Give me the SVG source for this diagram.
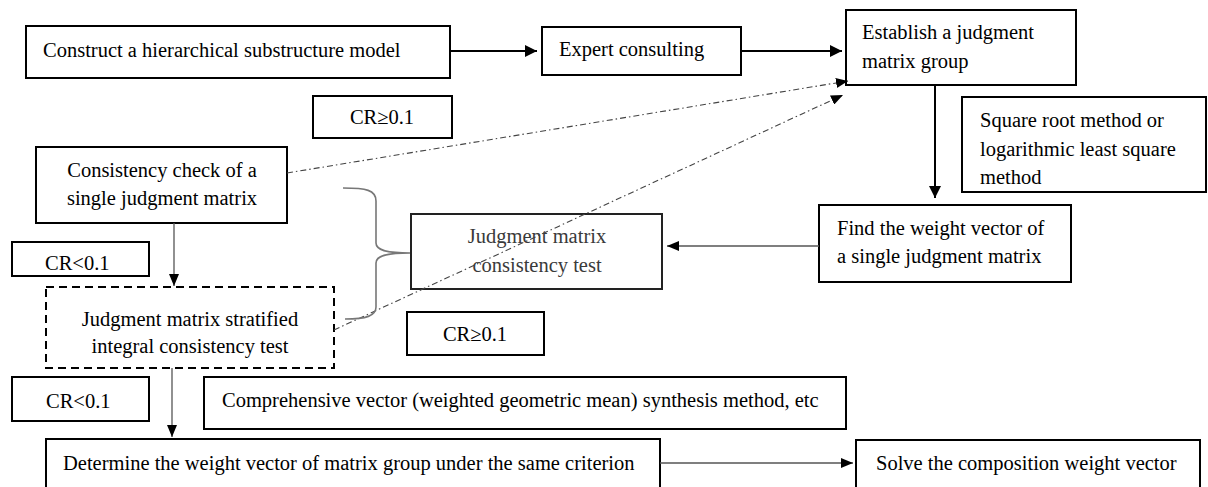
<svg xmlns="http://www.w3.org/2000/svg" width="1208" height="487" viewBox="0 0 1208 487">
  <style>
    .box { fill: #fff; stroke: #000; stroke-width: 2; }
    .dash { fill: #fff; stroke: #000; stroke-width: 2; stroke-dasharray: 8 5; }
    .soft { fill: none; stroke: #222; stroke-width: 2; }
    .t { font-family: "Liberation Serif", "Times New Roman", serif; font-size: 20.5px; fill: #000; }
    .tg { fill: #3a3a3a; }
    .mid { text-anchor: middle; }
    .bold { stroke: #000; stroke-width: 2; fill: none; }
    .thin { stroke: #555; stroke-width: 1.3; fill: none; }
    .dd { stroke: #444; stroke-width: 1.1; fill: none; stroke-dasharray: 6 3 1.5 3; }
    .brace { stroke: #777; stroke-width: 1.6; fill: none; }
  </style>
  <defs>
    <marker id="ahBig" markerUnits="userSpaceOnUse" viewBox="0 0 12 12" refX="12" refY="6" markerWidth="12" markerHeight="12" orient="auto">
      <path d="M0,0 L12,6 L0,12 Z" fill="#000"/>
    </marker>
    <marker id="ahSmall" markerUnits="userSpaceOnUse" viewBox="0 0 12 10" refX="12" refY="5" markerWidth="12" markerHeight="10" orient="auto">
      <path d="M0,0 L12,5 L0,10 Z" fill="#000"/>
    </marker>
  </defs>

  <g id="construct-model">
    <rect class="box" x="26" y="26" width="424" height="52"/>
    <text class="t" x="43" y="57">Construct a hierarchical substructure model</text>
  </g>

  <g id="expert-consulting">
    <rect class="box" x="542" y="27" width="199" height="48"/>
    <text class="t" x="559" y="56">Expert consulting</text>
  </g>

  <g id="establish-group">
    <rect class="box" x="846" y="10" width="230" height="75"/>
    <text class="t" x="862" y="39">Establish a judgment</text>
    <text class="t" x="862" y="68">matrix group</text>
  </g>

  <g id="square-root-note">
    <rect class="box" x="962" y="97" width="244" height="95"/>
    <text class="t" x="980" y="127">Square root method or</text>
    <text class="t" x="980" y="156">logarithmic least square</text>
    <text class="t" x="980" y="184">method</text>
  </g>

  <g id="find-weight">
    <rect class="box" x="819" y="205" width="252" height="77"/>
    <text class="t" x="837" y="235">Find the weight vector of</text>
    <text class="t" x="837" y="263">a single judgment matrix</text>
  </g>

  <g id="consistency-test">
    <rect class="soft" x="411" y="214" width="251" height="75"/>
    <text class="t tg mid" x="537" y="243">Judgment matrix</text>
    <text class="t tg mid" x="537" y="272">consistency test</text>
  </g>

  <g id="cr-ge-top">
    <rect class="box" x="313" y="96" width="139" height="42"/>
    <text class="t mid" x="382" y="124">CR≥0.1</text>
  </g>

  <g id="single-check">
    <rect class="box" x="36" y="147" width="251" height="76"/>
    <text class="t mid" x="162" y="177">Consistency check of a</text>
    <text class="t mid" x="162" y="205">single judgment matrix</text>
  </g>

  <g id="cr-lt-top">
    <rect class="box" x="12" y="242" width="137" height="34"/>
    <text class="t" x="45" y="270">CR&lt;0.1</text>
  </g>

  <g id="stratified-test">
    <rect class="dash" x="46" y="287" width="288" height="81"/>
    <text class="t mid" x="190" y="326">Judgment matrix stratified</text>
    <text class="t mid" x="190" y="353">integral consistency test</text>
  </g>

  <g id="cr-ge-bottom">
    <rect class="box" x="407" y="312" width="137" height="43"/>
    <text class="t mid" x="475" y="341">CR≥0.1</text>
  </g>

  <g id="cr-lt-bottom">
    <rect class="box" x="12" y="377" width="137" height="44"/>
    <text class="t" x="46" y="408">CR&lt;0.1</text>
  </g>

  <g id="synthesis-note">
    <rect class="box" x="204" y="377" width="642" height="52"/>
    <text class="t" x="222" y="407">Comprehensive vector (weighted geometric mean) synthesis method, etc</text>
  </g>

  <g id="group-weight">
    <rect class="box" x="46" y="439" width="614" height="60"/>
    <text class="t" x="63" y="470">Determine the weight vector of matrix group under the same criterion</text>
  </g>

  <g id="composition-weight">
    <rect class="box" x="856" y="440" width="344" height="60"/>
    <text class="t" x="876" y="470">Solve the composition weight vector</text>
  </g>

  <!-- connectors, drawn last so the dash-dot return lines run over the test box -->
  <g id="connectors">
    <line class="bold" x1="450" y1="51" x2="537" y2="51" marker-end="url(#ahBig)"/>
    <line class="bold" x1="741" y1="51" x2="842" y2="51" marker-end="url(#ahBig)"/>
    <line class="bold" x1="935" y1="85" x2="935" y2="198" marker-end="url(#ahBig)"/>
    <line class="thin" x1="819" y1="246" x2="667" y2="246" marker-end="url(#ahSmall)"/>
    <line class="thin" x1="174" y1="223" x2="174" y2="286" marker-end="url(#ahSmall)"/>
    <line class="thin" x1="172" y1="368" x2="172" y2="437" marker-end="url(#ahSmall)"/>
    <line class="thin" x1="660" y1="463" x2="853" y2="463" marker-end="url(#ahSmall)"/>
    <line class="dd" x1="287" y1="173" x2="848" y2="81" marker-end="url(#ahSmall)"/>
    <line class="dd" x1="334" y1="330" x2="843" y2="95" marker-end="url(#ahSmall)"/>
    <path class="brace" d="M343,188 C366,188 376,190 376,201 L376,243 C376,250 386,253 410,253 C386,253 376,256 376,263 L376,307 C376,316 366,319 345,319"/>
  </g>
</svg>
